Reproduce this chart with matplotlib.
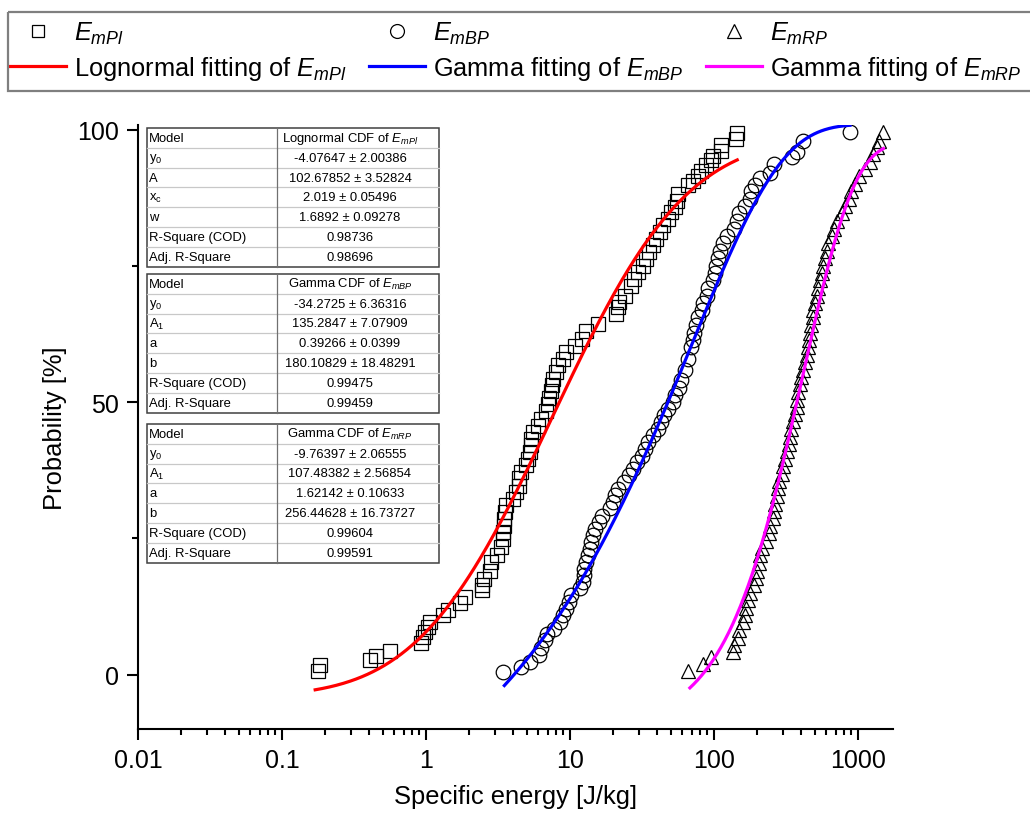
import math
import numpy as np
import matplotlib
matplotlib.use('Agg')
import matplotlib.pyplot as plt
from matplotlib.lines import Line2D
from matplotlib.patches import Rectangle
from matplotlib.ticker import LogLocator, NullFormatter

plt.rcParams['font.family'] = ['Liberation Sans', 'DejaVu Sans']
plt.rcParams['mathtext.fontset'] = 'custom'
plt.rcParams['mathtext.rm'] = 'Liberation Sans'
plt.rcParams['mathtext.it'] = 'Liberation Sans:italic'
plt.rcParams['mathtext.bf'] = 'Liberation Sans:bold'

# ---------------- data ----------------
mpl_x = [0.177, 0.184, 0.406, 0.45, 0.566, 0.93, 0.95, 0.99, 1.03, 1.06,
         1.31, 1.42, 1.71, 1.86, 2.43, 2.45, 2.51, 2.77, 2.85, 3.1,
         3.33, 3.42, 3.45, 3.48, 3.5, 3.56, 3.6, 4.0, 4.2, 4.4,
         4.45, 4.6, 4.97, 5.1, 5.3, 5.35, 5.4, 5.5, 5.97, 6.3,
         6.8, 7.0, 7.2, 7.4, 7.5, 7.6, 8.0, 8.2, 8.9, 9.4,
         10.9, 12.1, 13.0, 15.7, 21.0, 21.5, 22.0, 24.2, 26.7, 28.0,
         29.5, 32.0, 33.8, 35.5, 37.5, 39.5, 42.0, 44.0, 48.0, 50.5,
         53.5, 55.0, 56.0, 66.0, 71.0, 77.0, 81.5, 88.0, 95.0, 98.7,
         111, 112, 143, 145]
mpl_y = [0.6, 1.7, 2.6, 3.4, 4.3, 5.7, 6.9, 7.8, 8.7, 9.7,
         10.9, 11.8, 13.2, 14.3, 15.5, 16.5, 17.6, 19.1, 20.6, 21.9,
         23.5, 24.8, 26.1, 27.3, 28.6, 29.9, 31.1, 32.3, 33.5, 34.7,
         36.0, 37.2, 38.4, 39.6, 40.9, 42.1, 43.3, 44.5, 45.7, 47.0,
         48.4, 49.6, 50.8, 52.0, 53.1, 54.3, 55.5, 56.8, 58.0, 59.3,
         60.4, 61.7, 63.0, 64.3, 66.2, 67.5, 68.4, 69.6, 71.4, 72.7,
         73.9, 75.1, 76.3, 77.6, 78.8, 80.0, 81.3, 82.5, 83.7, 84.9,
         85.8, 87.0, 88.3, 89.8, 90.7, 91.6, 92.5, 93.5, 94.4, 95.3,
         96.2, 97.2, 98.3, 99.4]

mbp_x = [3.43, 4.6, 5.3, 6.1, 6.3, 6.7, 6.9, 7.8, 8.5, 8.9,
         9.4, 9.9, 10.2, 11.7, 12.3, 12.6, 12.6, 13.0, 13.3, 13.7,
         14.1, 14.5, 14.9, 15.8, 16.6, 19.0, 19.8, 20.4, 21.6, 23.6,
         25.5, 27.6, 29.4, 31.5, 33, 35, 37.5, 41, 43, 45,
         48, 52, 54, 57, 59, 63, 66, 69.5, 71, 73,
         75, 78, 82, 84.5, 89, 91, 98.5, 101, 104, 107,
         110, 116, 123, 137, 144, 150, 164, 177, 182, 192,
         207, 245, 260, 350, 380, 417, 880]
mbp_y = [0.5, 1.4, 2.3, 3.5, 4.8, 6.3, 7.5, 8.4, 9.7, 10.9,
         12.1, 13.3, 14.6, 15.8, 17.0, 18.2, 19.4, 20.7, 21.9, 23.1,
         24.3, 25.6, 26.8, 28.0, 29.2, 30.5, 31.7, 32.9, 34.1, 35.4,
         36.6, 37.8, 39.0, 40.2, 41.5, 42.7, 43.9, 45.1, 46.4, 47.6,
         48.8, 50.0, 51.3, 52.6, 54.0, 56.0, 58.0, 60.1, 61.5, 62.8,
         64.2, 65.6, 66.9, 68.3, 69.6, 71.0, 72.4, 73.7, 75.1, 76.5,
         77.8, 79.2, 80.6, 81.9, 83.3, 84.7, 86.0, 87.4, 88.7, 89.8,
         91.2, 92.1, 93.7, 95.0, 96.0, 97.9, 99.6]

mrp_x = [66, 84, 95, 135, 138, 146, 150, 158, 164, 167,
         172, 177, 190, 195, 200, 205, 210, 215, 230, 240,
         245, 255, 260, 265, 275, 280, 285, 295, 300, 310,
         320, 330, 337, 345, 355, 365, 375, 380, 385, 395,
         405, 415, 430, 440, 450, 460, 465, 475, 485, 490,
         505, 515, 530, 545, 560, 575, 590, 605, 620, 655,
         680, 710, 770, 810, 860, 900, 950, 1020, 1120, 1220,
         1280, 1350, 1390, 1500]
mrp_y = [0.7, 2.0, 3.3, 4.1, 5.5, 6.8, 8.2, 9.6, 10.9, 12.3,
         13.7, 15.0, 16.4, 17.8, 19.1, 20.5, 21.9, 23.2, 24.6, 26.0,
         27.3, 28.7, 30.1, 31.4, 32.8, 34.2, 35.5, 36.9, 38.3, 39.6,
         41.0, 42.4, 43.7, 45.1, 46.5, 47.8, 49.2, 50.5, 51.9, 53.3,
         54.6, 56.0, 57.4, 58.7, 60.1, 61.5, 62.8, 64.2, 65.6, 66.9,
         68.3, 69.6, 71.0, 72.4, 73.7, 75.1, 76.5, 77.8, 79.2, 80.6,
         81.9, 83.3, 84.7, 86.0, 87.4, 88.7, 90.1, 91.5, 92.8, 94.2,
         95.6, 96.9, 97.9, 99.6]

# fitted parameters (from the tables in the chart)
lognorm_mpl = [-4.07647, 102.67852, 2.019, 1.6892]     # y0, A, xc, w
gamma_mbp = [-34.2725, 135.2847, 0.39266, 180.10829]    # y0, A1, a, b
gamma_mrp = [-9.76397, 107.48382, 1.62142, 256.44628]   # y0, A1, a, b
fit_range_mpl = [0.17, 145]
fit_range_mbp = [3.5, 880]
fit_range_mrp = [68, 1500]

x_ticks = [0.01, 0.1, 1, 10, 100, 1000]
x_ticklabels = ['0.01', '0.1', '1', '10', '100', '1000']
y_ticks = [0, 50, 100]
y_ticklabels = ['0', '50', '100']

table_mpl = [('Model', r'Lognormal CDF of $E_{mPl}$'),
             (r'$\mathregular{y_0}$', '-4.07647 ± 2.00386'),
             ('A', '102.67852 ± 3.52824'),
             (r'$\mathregular{x_c}$', '2.019 ± 0.05496'),
             ('w', '1.6892 ± 0.09278'),
             ('R-Square (COD)', '0.98736'),
             ('Adj. R-Square', '0.98696')]
table_mbp = [('Model', r'Gamma CDF of $E_{mBP}$'),
             (r'$\mathregular{y_0}$', '-34.2725 ± 6.36316'),
             (r'$\mathregular{A_1}$', '135.2847 ± 7.07909'),
             ('a', '0.39266 ± 0.0399'),
             ('b', '180.10829 ± 18.48291'),
             ('R-Square (COD)', '0.99475'),
             ('Adj. R-Square', '0.99459')]
table_mrp = [('Model', r'Gamma CDF of $E_{mRP}$'),
             (r'$\mathregular{y_0}$', '-9.76397 ± 2.06555'),
             (r'$\mathregular{A_1}$', '107.48382 ± 2.56854'),
             ('a', '1.62142 ± 0.10633'),
             ('b', '256.44628 ± 16.73727'),
             ('R-Square (COD)', '0.99604'),
             ('Adj. R-Square', '0.99591')]

legend_labels = [r'$E_{mPl}$', r'Lognormal fitting of $E_{mPl}$',
                 r'$E_{mBP}$', r'Gamma fitting of $E_{mBP}$',
                 r'$E_{mRP}$', r'Gamma fitting of $E_{mRP}$']


# ---------------- model functions ----------------
def lognormal_cdf(x, y0, A, xc, w):
    z = (np.log(x) - xc) / (w * math.sqrt(2.0))
    return y0 + A * 0.5 * (1.0 + np.array([math.erf(v) for v in z]))


def gamma_cdf(x, y0, A1, a, b):
    t = np.asarray(x, float) / b
    term = np.ones_like(t) / a
    s = term.copy()
    for n in range(1, 400):
        term = term * t / (a + n)
        s = s + term
    P = s * np.exp(-t + a * np.log(t) - math.lgamma(a))
    return y0 + A1 * P


# ---------------- figure ----------------
W, H = 1030, 820
fig = plt.figure(figsize=(W / 100, H / 100), dpi=100)
ax = fig.add_axes([138 / W, 1 - 730 / H, (893 - 138) / W, (730 - 125.5) / H])

ax.set_xscale('log')
ax.set_xlim(0.01, 1750)
ax.set_ylim(-10, 101)

ms_kw = dict(linestyle='none', mfc='none', mec='black', mew=0.9)
ax.plot(mpl_x, mpl_y, marker='s', ms=9.8, **ms_kw, zorder=3)
ax.plot(mbp_x, mbp_y, marker='o', ms=10.5, **ms_kw, zorder=3)
ax.plot(mrp_x, mrp_y, marker='^', ms=10, **ms_kw, zorder=3)

xf = np.logspace(np.log10(fit_range_mpl[0]), np.log10(fit_range_mpl[1]), 300)
ax.plot(xf, lognormal_cdf(xf, *lognorm_mpl), color='#ff0000', lw=2.3, zorder=4)
xf = np.logspace(np.log10(fit_range_mbp[0]), np.log10(fit_range_mbp[1]), 300)
ax.plot(xf, gamma_cdf(xf, *gamma_mbp), color='#0000ff', lw=2.3, zorder=4)
xf = np.logspace(np.log10(fit_range_mrp[0]), np.log10(fit_range_mrp[1]), 300)
ax.plot(xf, gamma_cdf(xf, *gamma_mrp), color='#ff00ff', lw=2.3, zorder=4)

for s in ['top', 'right']:
    ax.spines[s].set_visible(False)
for s in ['left', 'bottom']:
    ax.spines[s].set_linewidth(1.5)

ax.set_xticks(x_ticks, labels=x_ticklabels)
ax.xaxis.set_minor_locator(LogLocator(base=10, subs=np.arange(2, 10)))
ax.xaxis.set_minor_formatter(NullFormatter())
ax.set_yticks(y_ticks, labels=y_ticklabels)
ax.set_yticks([25, 75], minor=True)
ax.tick_params(which='major', direction='out', length=8, width=1.5,
               labelsize=18, pad=6)
ax.tick_params(which='minor', direction='out', length=4, width=1.5)

ax.set_xlabel('Specific energy [J/kg]', fontsize=18.4, labelpad=8)
ax.set_ylabel('Probability [%]', fontsize=18.4, labelpad=7)

# ---------------- overlay (legend frame + tables) ----------------
ov = fig.add_axes([0, 0, 1, 1], zorder=10)
ov.set_xlim(0, W)
ov.set_ylim(H, 0)
ov.axis('off')
ov.patch.set_alpha(0)

# legend frame (extends past the right edge, as in the original)
ov.add_patch(Rectangle((8, 13), 1040, 79, facecolor='none',
                       edgecolor='#7f7f7f', lw=1.6, clip_on=False))

handles = [
    Line2D([], [], marker='s', ms=8, **ms_kw),
    Line2D([], [], color='#ff0000', lw=2.3),
    Line2D([], [], marker='o', ms=10, **ms_kw),
    Line2D([], [], color='#0000ff', lw=2.3),
    Line2D([], [], marker='^', ms=10, **ms_kw),
    Line2D([], [], color='#ff00ff', lw=2.3),
]
leg = fig.legend(handles, legend_labels, ncol=3, loc='upper left',
                 bbox_to_anchor=(10 / W, 1 - 21 / H), fontsize=18.3,
                 frameon=False, borderpad=0.0,
                 handlelength=2.2, handletextpad=0.3, columnspacing=0.9,
                 labelspacing=0.3, borderaxespad=0)


def draw_table(rows, top, left=147, right=439, split=277, rh=19.8):
    n = len(rows)
    ov.add_patch(Rectangle((left, top), right - left, n * rh, facecolor='white',
                           edgecolor='#404040', lw=1.1))
    for k in range(1, n):
        ov.plot([left, right], [top + k * rh, top + k * rh], color='#c8c8c8', lw=0.9)
    ov.plot([split, split], [top, top + n * rh], color='#707070', lw=0.9)
    for k, (a, b) in enumerate(rows):
        yc = top + (k + 0.5) * rh
        ov.text(left + 2, yc, a, fontsize=9.4, ha='left', va='center')
        ov.text((split + right) / 2 - 8, yc, b, fontsize=9.4, ha='center', va='center')


draw_table(table_mpl, 129)
draw_table(table_mbp, 275)
draw_table(table_mrp, 425)

fig.savefig('out.png', dpi=100)
